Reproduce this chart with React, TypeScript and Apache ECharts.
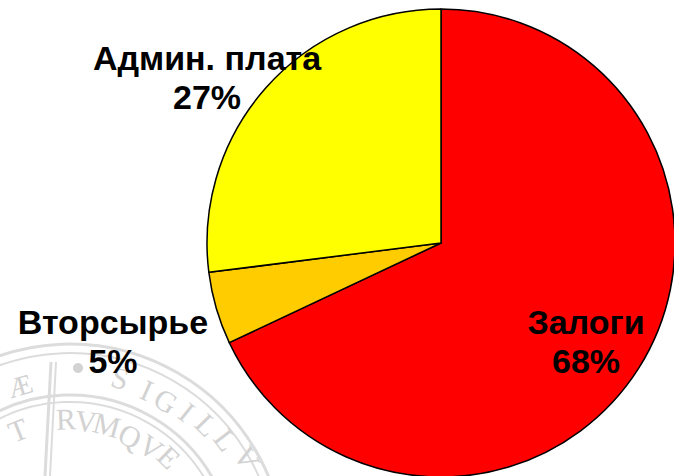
import React, { useEffect, useRef } from "react";
import * as echarts from "echarts";

const categories = ["Залоги", "Вторсырье", "Админ. плата"];
const values = [68, 5, 27];
const colors = ["#FF0000", "#FFCC00", "#FFFF00"];
const labelPos: [number, number][] = [
  [586, 341],
  [113, 341],
  [207, 77],
];

const sealOuter = ["S", "I", "G", "I", "L", "L", "V"];
const sealOuterPos: [number, number][] = [
  [120, 378], [147, 390], [166, 401], [187, 412], [207, 425], [226, 440], [247, 458],
];
const sealInner = ["R", "V", "M", "Q", "V", "E"];
const sealInnerPos: [number, number][] = [
  [66, 419], [86, 421], [107, 425], [130, 436], [151, 447], [169, 457],
];
const SEAL_C: [number, number] = [70, 559];

function sealLetters(chars: string[], pos: [number, number][], size: number) {
  return chars.map((ch, i) => {
    const [x, y] = pos[i];
    const rot = -Math.atan2(x - SEAL_C[0], SEAL_C[1] - y);
    return {
      type: "text",
      x,
      y,
      rotation: rot,
      style: {
        text: ch,
        fill: "#d2d2d2",
        fontSize: size,
        fontFamily: "Liberation Serif",
        align: "center",
        verticalAlign: "middle",
      },
      z: 0,
    };
  });
}

export default function App() {
  const ref = useRef<HTMLDivElement>(null);
  useEffect(() => {
    document.body.style.margin = "0";
    const chart = echarts.init(ref.current!, null, { renderer: "svg" });
    const ring = (r: number, w: number) => ({
      type: "circle",
      shape: { cx: SEAL_C[0], cy: SEAL_C[1], r },
      style: { fill: "none", stroke: "#dcdcdc", lineWidth: w },
      z: 0,
    });
    chart.setOption({
      animation: false,
      backgroundColor: "#ffffff",
      graphic: [
        ring(215, 3),
        ring(206, 2),
        ring(164, 3),
        ring(157, 2),
        {
          type: "line",
          shape: { x1: 51, y1: 362, x2: 45, y2: 476 },
          style: { stroke: "#dcdcdc", lineWidth: 3 },
          z: 0,
        },
        {
          type: "line",
          shape: { x1: 56, y1: 362, x2: 50, y2: 476 },
          style: { stroke: "#dcdcdc", lineWidth: 2 },
          z: 0,
        },
        {
          type: "circle",
          shape: { cx: 78, cy: 368, r: 5 },
          style: { fill: "#d2d2d2" },
          z: 0,
        },
        ...sealLetters(sealOuter, sealOuterPos, 30),
        ...sealLetters(sealInner, sealInnerPos, 30),
        ...sealLetters(["Æ"], [[20, 386]], 28),
        ...sealLetters(["T"], [[18, 430]], 30),
      ],
      series: [
        {
          type: "pie",
          center: [441, 243],
          radius: 234,
          startAngle: 90,
          clockwise: true,
          z: 5,
          data: categories.map((c, i) => ({
            name: c,
            value: values[i],
            itemStyle: { color: colors[i] },
          })),
          itemStyle: { borderColor: "#000000", borderWidth: 1.5 },
          label: {
            show: true,
            position: "inside",
            overflow: "none",
            formatter: "{b}\n{c}%",
            color: "#000000",
            fontFamily: '"Liberation Sans", Arial, sans-serif',
            fontWeight: "bold",
            fontSize: 34,
            lineHeight: 39,
            align: "center",
          },
          labelLine: { show: false },
          labelLayout: (params: any) => {
            const p = labelPos[params.dataIndex];
            return {
              x: p[0],
              y: p[1],
              align: "center",
              verticalAlign: "middle",
            };
          },
          emphasis: { disabled: true },
        },
      ],
    });
    return () => chart.dispose();
  }, []);
  return <div ref={ref} style={{ width: 674, height: 476 }} />;
}
